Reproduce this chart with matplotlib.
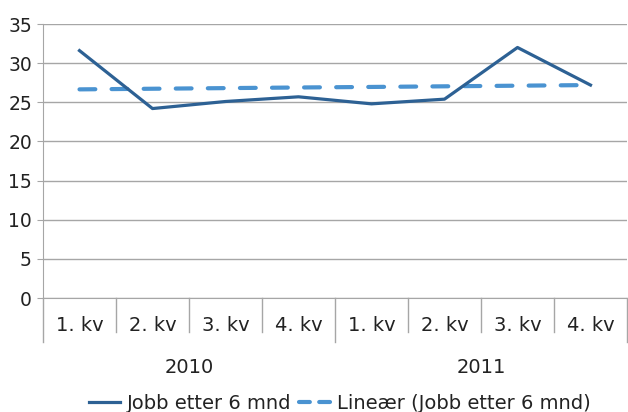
import matplotlib.pyplot as plt
import matplotlib.transforms as mtransforms
from matplotlib.lines import Line2D
import numpy as np

plt.rcParams['font.family'] = ['DejaVu Sans']

quarters = ['1. kv', '2. kv', '3. kv', '4. kv', '1. kv', '2. kv', '3. kv', '4. kv']
years = ['2010', '2011']
jobb = [31.6, 24.2, 25.1, 25.7, 24.8, 25.4, 32.0, 27.2]
trend = [26.65, 26.73, 26.81, 26.89, 26.96, 27.04, 27.12, 27.2]

fig = plt.figure(figsize=(6.28, 4.12), dpi=100)
ax = fig.add_axes([43 / 628, 1 - 298 / 412, 584 / 628, 274 / 412])

x = np.arange(len(quarters))
grid_col = '#A6A6A6'
main_col = '#2D6194'
trend_col = '#4A93D1'

ax.plot(x, jobb, color=main_col, lw=2.3, zorder=3)
ax.plot(x, trend, color=trend_col, lw=3.0, ls=(0, (3.8, 3.9)), dash_capstyle='round', zorder=2)

ax.set_xlim(-0.5, len(quarters) - 0.5)
ax.set_ylim(0, 35)
ax.set_yticks(range(0, 36, 5))
ax.yaxis.grid(True, color=grid_col, lw=1)
ax.set_axisbelow(True)
for s in ['top', 'right']:
    ax.spines[s].set_visible(False)
ax.spines['left'].set_color(grid_col)
ax.spines['bottom'].set_color(grid_col)
ax.tick_params(axis='y', length=4, color=grid_col, labelsize=13.5, pad=4, labelcolor='#222222')

ax.set_xticks(x)
ax.set_xticklabels(quarters)
ax.tick_params(axis='x', length=0, labelsize=14, pad=13, labelcolor='#222222')

# category separators below the axis
trans = mtransforms.blended_transform_factory(ax.transData, ax.transAxes)
for i in range(len(quarters) + 1):
    depth = -0.16 if i % 4 == 0 else -0.125
    ax.plot([i - 0.5, i - 0.5], [0, depth], color=grid_col, lw=1,
            transform=trans, clip_on=False)

for j, yr in enumerate(years):
    ax.text(j * 4 + 1.5, -0.255, yr, transform=trans, ha='center', va='center',
            fontsize=14, color='#222222')

handles = [
    Line2D([], [], color=main_col, lw=2.3),
    Line2D([], [], color=trend_col, lw=3.0, ls=(0, (2.6, 2.25)), dash_capstyle='round'),
]
labels = ['Jobb etter 6 mnd', 'Lineær (Jobb etter 6 mnd)']
ax.legend(handles, labels, loc='center', bbox_to_anchor=(0.5086, -0.385), ncol=2,
          frameon=False, fontsize=14, handlelength=1.6, columnspacing=0.4,
          handletextpad=0.36, labelcolor='#222222')

fig.savefig('out.png', dpi=100)
